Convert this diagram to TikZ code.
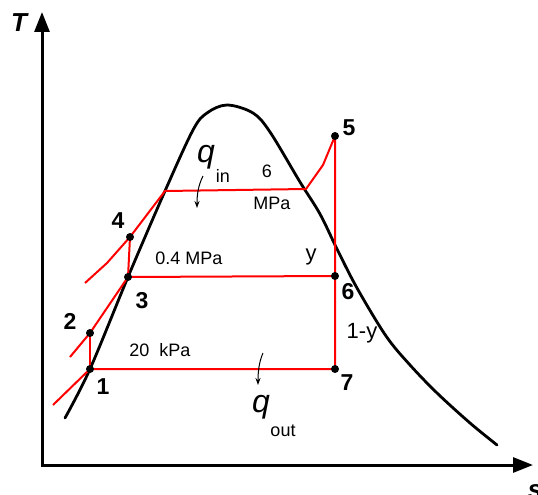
\documentclass[tikz,border=0pt]{standalone}
\usepackage{fontspec}
\setmainfont{Liberation Sans}
\usetikzlibrary{arrows.meta}
\begin{document}
\begin{tikzpicture}[x=1pt,y=-1pt,
  axis/.style={line width=3pt, line join=miter, {Triangle[length=20pt,width=15pt]}-{Triangle[length=20pt,width=15pt]}},
  dome/.style={line width=2.8pt, line join=round, line cap=round},
  cyc/.style={draw=red, line width=2pt, line join=round},
  num/.style={font=\fontsize{23}{23}\selectfont\bfseries, inner sep=0pt},
  lab/.style={font=\fontsize{18}{18}\selectfont, inner sep=0pt},
  big/.style={font=\fontsize{22}{22}\selectfont, inner sep=0pt},
  qlab/.style={font=\fontsize{32}{32}\selectfont\itshape, inner sep=0pt},
  axlab/.style={font=\fontsize{26}{26}\selectfont\bfseries\itshape, inner sep=0pt},
  heat/.style={line width=1pt, -{Stealth[length=7pt,width=5pt]}}
]
\useasboundingbox (0,0) rectangle (538,495);
% axes
\coordinate (O) at (42,465);
\coordinate (Ttip) at (42,12);
\coordinate (stip) at (533,465);
\draw[axis] (Ttip) -- (O) -- (stip);
\node[axlab] (Tlab) at (19,23) {T};
\node[axlab] (slab) at (535,492) {s};
% saturation dome
\draw[dome] plot[smooth, tension=0.55] coordinates {
  (65,418) (90,369) (128,277) (165,191) (193,130) (207,113) (227,105)
  (253,113) (270,132) (300,182) (320,214) (337,249) (357,288) (386,336)
  (410,365) (437,393) (470,423) (497,445)};
% state points
\coordinate (p1) at (90,369);
\coordinate (p2) at (90,333);
\coordinate (p3) at (128,277);
\coordinate (p4) at (130,237);
\coordinate (p5) at (335,136);
\coordinate (p6) at (335,276);
\coordinate (p7) at (335,369);
% auxiliary coordinates
\coordinate (a1) at (53,405);
\coordinate (b1) at (70,357);
\coordinate (c1) at (85,283);
\coordinate (c2) at (107,263);
\coordinate (c3) at (165,191);
\coordinate (c4) at (306,189);
\coordinate (c5) at (323,165);
% cycle
\draw[cyc] (a1) -- (p1) -- (p7);
\draw[cyc] (p1) -- (p2);
\draw[cyc] (b1) -- (p2) -- (p3) -- (p6);
\draw[cyc] (p3) -- (p4);
\draw[cyc] (c1) -- (c2) -- (p4) -- (c3) -- (c4) -- (c5) -- (p5) -- (p7);
\foreach \p in {p1,p2,p3,p4,p5,p6,p7} \fill (\p) circle (4pt);
% labels
\node[num] (l1) at (103,387) {1};
\node[num] (l2) at (70,321) {2};
\node[num] (l3) at (142,301) {3};
\node[num] (l4) at (118,221) {4};
\node[num] (l5) at (349,128) {5};
\node[num] (l6) at (348,292) {6};
\node[num] (l7) at (347,383) {7};
\node[big] (ly) at (311,257) {y};
\node[big] (l1y) at (362,333) {1-y};
\node[lab] (lp1) at (189,258) {0.4 MPa};
\node[lab] (lp2) at (160,350) {20\ \ kPa};
\node[lab] (lp3a) at (267,171) {6};
\node[lab] (lp3b) at (272,203) {MPa};
\node[qlab] (qin) at (206,157) {q};
\node[lab] (qins) at (223,176) {in};
\node[qlab] (qout) at (261,407) {q};
\node[lab] (qouts) at (283,431) {out};
% heat arrows
\coordinate (qi1) at (203,176);
\coordinate (qi2) at (197,208);
\draw[heat] (qi1) .. controls (198,186) and (197,195) .. (qi2);
\coordinate (qo1) at (263,353);
\coordinate (qo2) at (258,385);
\draw[heat] (qo1) .. controls (259,362) and (258,372) .. (qo2);
\end{tikzpicture}
\end{document}
